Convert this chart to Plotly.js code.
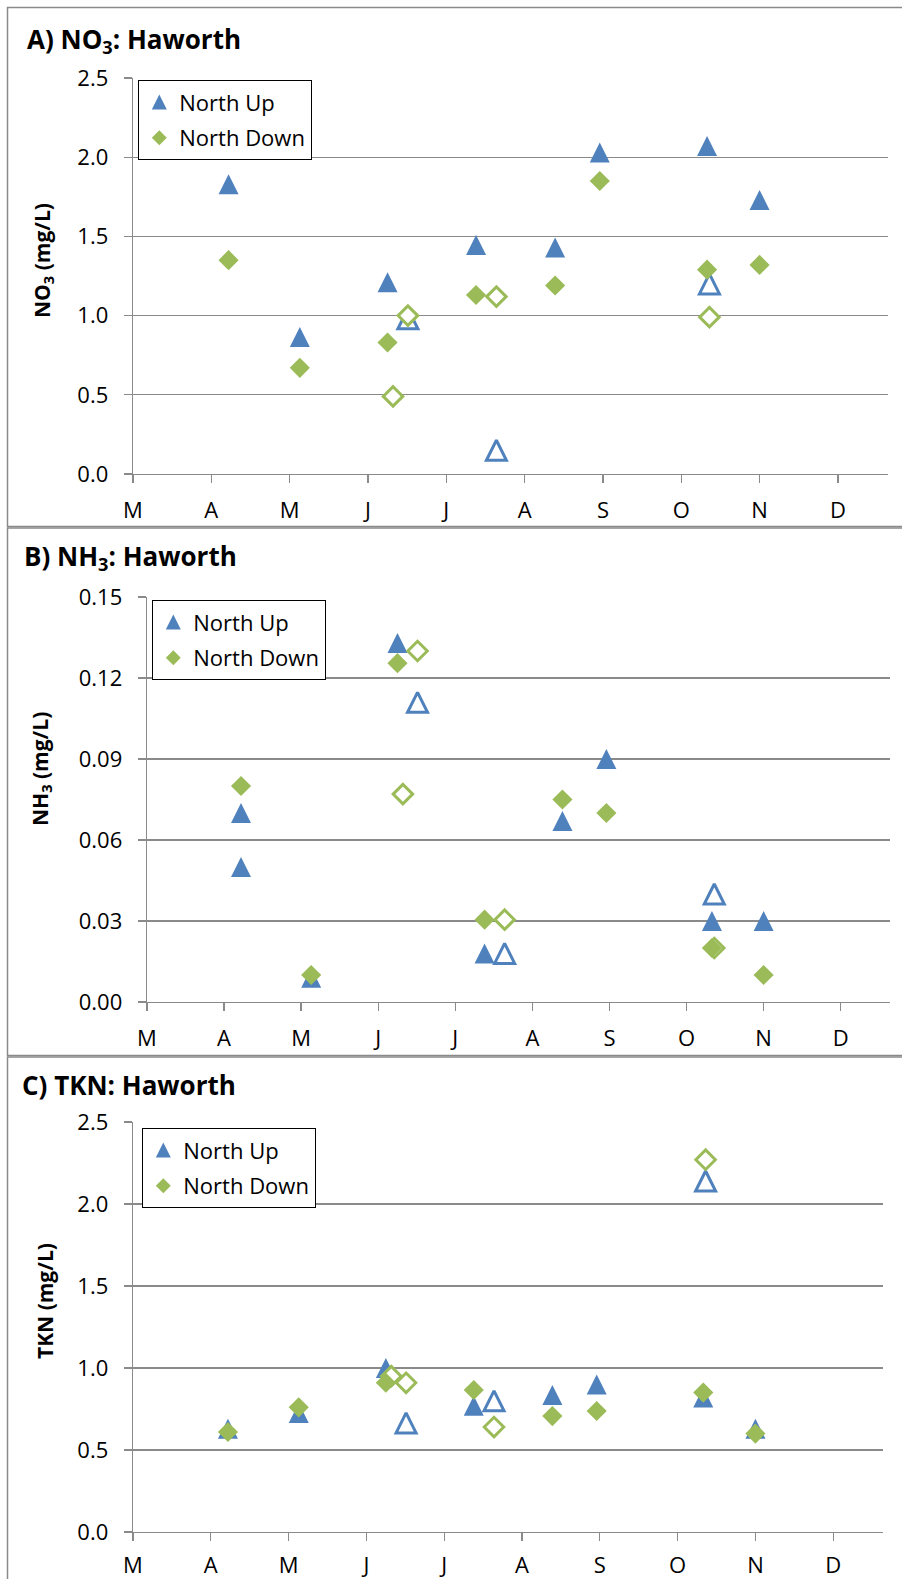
<!DOCTYPE html>
<html>
<head>
<meta charset="utf-8">
<script src="https://cdn.plot.ly/plotly-3.0.1.min.js"></script>
<style>
  html, body { margin: 0; padding: 0; background: #fff; }
  #chart { width: 902px; height: 1579px; }
</style>
</head>
<body>
<div id="chart"></div>
<script>
// Month axis: 3 = 1 March, 4 = 1 April, ... (fractional months for sample dates)
const monthTicks = [3, 4, 5, 6, 7, 8, 9, 10, 11, 12];
const monthLabels = ['M', 'A', 'M', 'J', 'J', 'A', 'S', 'O', 'N', 'D'];

// Sampling dates
const filledDates = [4.22, 5.13, 6.25, 7.38, 8.39, 8.96, 10.33, 11.0];
const openUpDates = [6.51, 7.64, 10.36];
const openDownDates = [6.32, 6.51, 7.64, 10.36];

// A) NO3 (mg/L)
const no3Up = [1.83, 0.865, 1.21, 1.445, 1.43, 2.03, 2.07, 1.73];
const no3Down = [1.35, 0.67, 0.83, 1.13, 1.19, 1.85, 1.29, 1.32];
const no3UpOpen = [0.98, 0.15, 1.2];
const no3DownOpen = [0.49, 1.0, 1.12, 0.99];

// B) NH3 (mg/L) - two North Up samples in early April
const nh3UpDates = [4.22, 4.22, 5.13, 6.25, 7.38, 8.39, 8.96, 10.33, 11.0];
const nh3Up = [0.07, 0.05, 0.009, 0.133, 0.018, 0.067, 0.09, 0.03, 0.03];
const nh3Down = [0.08, 0.01, 0.1255, 0.0305, 0.075, 0.07, 0.02, 0.01];
const nh3UpOpen = [0.111, 0.018, 0.04];
const nh3DownOpen = [0.077, 0.13, 0.0305, 0.02];

// C) TKN (mg/L)
const tknUp = [0.63, 0.725, 1.0, 0.77, 0.835, 0.90, 0.82, 0.63];
const tknDown = [0.61, 0.76, 0.91, 0.866, 0.707, 0.738, 0.85, 0.60];
const tknUpOpen = [0.665, 0.80, 2.14];
const tknDownOpen = [0.95, 0.91, 0.64, 2.27];

const W = 902, H = 1579;
const BLUE = '#4F81BD';
const GREEN = '#9BBB59';
const GRAY = '#8a8a8a';
const FONT = 'Open Sans, Noto Sans, sans-serif';

const px = v => v / W;
const py = v => 1 - v / H;

// Upward triangle built from the arrow glyph, rotated and shifted so it is centred on the point
const triFilled = { symbol: 'arrow-down', angle: 180, standoff: 10, size: 20, color: BLUE, line: { width: 0 } };
const triOpen = { symbol: 'arrow-down', angle: 180, standoff: 10, size: 20, color: '#ffffff', line: { color: BLUE, width: 3 } };
const diaFilled = { symbol: 'diamond', size: 15.5, color: GREEN, line: { width: 0 } };
const diaOpen = { symbol: 'diamond', size: 15, color: '#ffffff', line: { color: GREEN, width: 3 } };
// Legend swatches (legend glyphs apply the standoff in the opposite sense)
const triKey = { symbol: 'arrow-up', standoff: 7.5, size: 15, color: BLUE, line: { width: 0 } };
const diaKey = { symbol: 'diamond', size: 11.5, color: GREEN, line: { width: 0 } };

function panelTraces(n, upX, up, down, upOpen, downOpen) {
  const xa = n === 1 ? 'x' : 'x' + n;
  const ya = n === 1 ? 'y' : 'y' + n;
  const lg = n === 1 ? 'legend' : 'legend' + n;
  const base = { type: 'scatter', mode: 'markers', xaxis: xa, yaxis: ya, legend: lg, hoverinfo: 'x+y', showlegend: false };
  return [
    Object.assign({}, base, { name: 'North Up', x: upX, y: up, marker: triFilled }),
    Object.assign({}, base, { name: 'North Up', x: openUpDates, y: upOpen, marker: triOpen }),
    Object.assign({}, base, { name: 'North Down', x: openDownDates, y: downOpen, marker: diaOpen }),
    Object.assign({}, base, { name: 'North Down', x: filledDates, y: down, marker: diaFilled }),
    // legend keys (a single empty point, nothing plotted)
    Object.assign({}, base, { name: 'North Up', showlegend: true, legendgroup: 'up', x: [null], y: [null], marker: triKey }),
    Object.assign({}, base, { name: 'North Down', showlegend: true, legendgroup: 'down', x: [null], y: [null], marker: diaKey })
  ];
}

const data = [].concat(
  panelTraces(1, filledDates, no3Up, no3Down, no3UpOpen, no3DownOpen),
  panelTraces(2, nh3UpDates, nh3Up, nh3Down, nh3UpOpen, nh3DownOpen),
  panelTraces(3, filledDates, tknUp, tknDown, tknUpOpen, tknDownOpen)
);

function xAxis(anchor, left, right, standoff) {
  return {
    anchor: anchor, domain: [px(left), px(right)],
    range: [3, 12.64],
    tickmode: 'array', tickvals: monthTicks, ticktext: monthLabels,
    showline: true, linecolor: GRAY, linewidth: 1.3,
    ticks: 'outside', ticklen: 8, tickcolor: GRAY, tickwidth: 1.3,
    ticklabelstandoff: standoff,
    showgrid: false, zeroline: false, fixedrange: true,
    tickfont: { family: FONT, size: 22, color: '#000' }
  };
}
function yAxis(anchor, top, bottom, max, step, fmt) {
  return {
    anchor: anchor, domain: [py(bottom), py(top)],
    range: [0, max], tick0: 0, dtick: step, tickformat: fmt,
    showline: true, linecolor: GRAY, linewidth: 1.3,
    ticks: 'outside', ticklen: 8, tickcolor: GRAY, tickwidth: 1.3,
    ticklabelstandoff: 11,
    showgrid: true, gridcolor: GRAY, gridwidth: 1.3,
    zeroline: false, fixedrange: true,
    tickfont: { family: FONT, size: 22, color: '#000' }
  };
}
function legendAt(left, top) {
  return {
    x: px(left), y: py(top), xanchor: 'left', yanchor: 'top',
    bgcolor: '#ffffff', bordercolor: '#000000', borderwidth: 1.3,
    font: { family: FONT, size: 22, color: '#000' },
    traceorder: 'grouped', tracegroupgap: 4, itemwidth: 30
  };
}
function frame(top, bottom) {
  return {
    type: 'rect', xref: 'paper', yref: 'paper', layer: 'below',
    x0: px(7.5), x1: px(910), y0: py(bottom), y1: py(top),
    line: { color: GRAY, width: 1.5 }, fillcolor: 'rgba(0,0,0,0)'
  };
}
function panelTitle(text, left, yc) {
  return {
    xref: 'paper', yref: 'paper', x: px(left), y: py(yc), xanchor: 'left', yanchor: 'middle',
    text: '<b>' + text + '</b>', showarrow: false,
    font: { family: FONT, size: 26, color: '#000' }
  };
}
function axisTitle(text, xc, yc) {
  return {
    xref: 'paper', yref: 'paper', x: px(xc), y: py(yc), xanchor: 'center', yanchor: 'middle',
    text: '<b>' + text + '</b>', textangle: -90, showarrow: false,
    font: { family: FONT, size: 21, color: '#000' }
  };
}

const layout = {
  width: W, height: H,
  margin: { l: 0, r: 0, t: 0, b: 0 },
  paper_bgcolor: '#ffffff', plot_bgcolor: '#ffffff',
  font: { family: FONT, color: '#000' },
  showlegend: true,
  xaxis: xAxis('y', 133, 888, 8),
  yaxis: yAxis('x', 78, 474, 2.5, 0.5, '.1f'),
  xaxis2: xAxis('y2', 147, 890, 8),
  yaxis2: yAxis('x2', 597, 1002, 0.15, 0.03, '.2f'),
  xaxis3: xAxis('y3', 133, 883, 5),
  yaxis3: yAxis('x3', 1122, 1532, 2.5, 0.5, '.1f'),
  legend: legendAt(138, 80),
  legend2: legendAt(152, 600),
  legend3: legendAt(142, 1128),
  shapes: [frame(7.5, 526.5), frame(528, 1055.5), frame(1057, 1590)],
  annotations: [
    panelTitle('A) NO<sub>3</sub>: Haworth', 25, 40),
    panelTitle('B) NH<sub>3</sub>: Haworth', 22, 557),
    panelTitle('C) TKN: Haworth', 20, 1085),
    axisTitle('NO<sub>3</sub> (mg/L)', 43, 261),
    axisTitle('NH<sub>3</sub> (mg/L)', 41, 769),
    axisTitle('TKN (mg/L)', 45, 1301)
  ]
};

Plotly.newPlot('chart', data, layout, { displayModeBar: false, staticPlot: true });
</script>
</body>
</html>
